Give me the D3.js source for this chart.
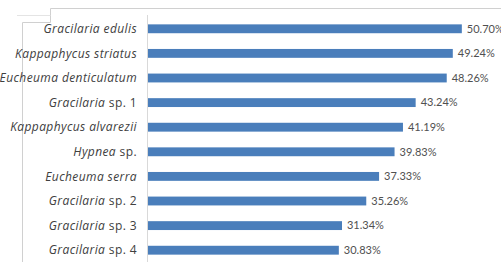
<!DOCTYPE html>
<html><head><meta charset="utf-8">
<script src="https://cdn.jsdelivr.net/npm/d3@7"></script>
<style>
html,body{margin:0;padding:0;background:#fff;overflow:hidden}
svg{display:block}
</style></head>
<body>
<svg id="c" width="501" height="262"></svg>
<script>
// Data
const genus = ["Gracilaria edulis","Kappaphycus striatus","Eucheuma denticulatum","Gracilaria","Kappaphycus alvarezii","Hypnea","Eucheuma serra","Gracilaria","Gracilaria","Gracilaria"];
const suffix = ["","","","sp. 1","","sp.","","sp. 2","sp. 3","sp. 4"];
const values = [50.70,49.24,48.26,43.24,41.19,39.83,37.33,35.26,31.34,30.83];
const valueLabels = ["50.70%","49.24%","48.26%","43.24%","41.19%","39.83%","37.33%","35.26%","31.34%","30.83%"];

const svg = d3.select("#c");
const ids = d3.range(values.length);

const x = d3.scaleLinear().domain([0, 60]).range([148, 148 + 60 * 6.19]);
const y = d3.scaleBand().domain(ids).range([16, 263]).paddingInner(0.64).paddingOuter(0.34);

// frame fragments
const frame = svg.append("g").attr("fill","none").attr("stroke","#d0d0d0").attr("stroke-width",1);
frame.append("path").attr("d","M50.5,8.5H501");
frame.append("path").attr("d","M50.5,8.5V22.5");
frame.append("path").attr("d","M17,15.5H50.5").attr("stroke","#e4e4e4");
frame.append("path").attr("d","M22.5,22.5H50.5V22.5");
frame.append("path").attr("d","M22.5,22.5V262");

// axis line
svg.append("line").attr("x1",147.5).attr("x2",147.5).attr("y1",15).attr("y2",262)
  .attr("stroke","#d9d9d9").attr("stroke-width",1);

// bars
svg.append("g").selectAll("rect").data(ids).join("rect")
  .attr("x", x(0))
  .attr("y", i => y(i))
  .attr("width", i => x(values[i]) - x(0))
  .attr("height", y.bandwidth())
  .attr("fill", "#4a7ebb");

// value labels
svg.append("g").selectAll("text").data(ids).join("text")
  .attr("x", i => x(values[i]) + 5)
  .attr("y", i => y(i) + y.bandwidth()/2)
  .attr("dy","0.35em")
  .attr("font-family","Lato, 'Open Sans', sans-serif")
  .attr("font-size",11)
  .attr("fill","#505050")
  .text(i => valueLabels[i]);

// category labels
const cl = svg.append("g").selectAll("text").data(ids).join("text")
  .attr("x", 137)
  .attr("y", i => y(i) + y.bandwidth()/2)
  .attr("dy","0.35em")
  .attr("text-anchor","end")
  .attr("font-family","'Open Sans', Lato, sans-serif")
  .attr("font-size",12)
  .attr("letter-spacing","0.4px")
  .attr("fill","#404040");
cl.append("tspan").attr("font-style","italic").text(i => genus[i]);
cl.filter(i => suffix[i]).append("tspan").text(i => " " + suffix[i]);
</script>
</body></html>
